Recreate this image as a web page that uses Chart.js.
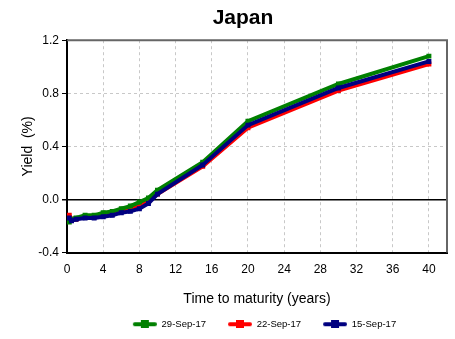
<!DOCTYPE html>
<html>
<head>
<meta charset="utf-8">
<script src="https://cdn.jsdelivr.net/npm/chart.js@4"></script>
<style>
  body { margin: 0; background: #fff; }
  #wrap { width: 455px; height: 339px; }
</style>
</head>
<body>
<div id="wrap"><canvas id="canvas"></canvas></div>
<script>
// maturities in years
let maturities = [0.25, 0.5, 1, 2, 3, 4, 5, 6, 7, 8, 9, 10, 15, 20, 30, 40];

// yields (%)
let sep29 = [-0.17, -0.15, -0.14, -0.12, -0.12, -0.10, -0.09, -0.07, -0.05, -0.02, 0.01, 0.07, 0.28, 0.59, 0.87, 1.08];
let sep22 = [-0.12, -0.15, -0.15, -0.13, -0.13, -0.12, -0.11, -0.09, -0.07, -0.04, -0.01, 0.04, 0.25, 0.54, 0.82, 1.02];
let sep15 = [-0.14, -0.16, -0.15, -0.14, -0.14, -0.13, -0.12, -0.10, -0.09, -0.07, -0.03, 0.04, 0.26, 0.56, 0.84, 1.04];

let seriesNames = ['29-Sep-17', '22-Sep-17', '15-Sep-17'];
let colors = ['#008000', '#ff0000', '#000080'];
let title = 'Japan';

Chart.defaults.font.family = '"Liberation Sans", Arial, sans-serif';
Chart.defaults.color = '#000';

// legend marker: blank lead-in (acts as gap) then a short line with a square
function legendIcon(color) {
  let c = document.createElement('canvas');
  c.width = 38; c.height = 8;
  let g = c.getContext('2d');
  g.strokeStyle = color;
  g.lineWidth = 4;
  g.lineCap = 'round';
  g.beginPath(); g.moveTo(16, 4); g.lineTo(36, 4); g.stroke();
  g.fillStyle = color;
  g.fillRect(22, 0, 8, 8);
  return c;
}

function toPoints(arr) {
  return arr.map((v, i) => ({ x: maturities[i], y: v }));
}

let allSeries = [sep29, sep22, sep15];
let drawOrder = [1, 2, 0]; // blue on top

let datasets = allSeries.map((s, i) => ({
  label: seriesNames[i],
  data: toPoints(s),
  borderColor: colors[i],
  backgroundColor: colors[i],
  borderWidth: 4,
  pointStyle: 'rect',
  pointRadius: 3.5,
  pointBorderWidth: 0,
  tension: 0,
  order: drawOrder[i]
}));

// frame on top and right of the plot, title and legend nudged like the original
let frame = {
  id: 'frame',
  beforeDraw(chart) {
    let t = chart.titleBlock;
    if (t) { t.left = 31; t.right = 455; }
    let l = chart.legend;
    if (l && !l._moved) { l.left += 26; l.right += 26; l._moved = true; }
  },
  afterDatasetsDraw(chart) {
    let a = chart.chartArea;
    let g = chart.ctx;
    g.save();
    g.strokeStyle = '#666';
    g.lineWidth = 2;
    g.beginPath();
    g.moveTo(a.left, a.top);
    g.lineTo(a.right, a.top);
    g.lineTo(a.right, a.bottom);
    g.stroke();
    g.restore();
  }
};

let options = {
  type: 'line',
  data: { datasets: datasets },
  plugins: [frame],
  options: {
    responsive: true,
    maintainAspectRatio: false,
    animation: false,
    layout: { padding: { left: 16, right: 8, top: 4, bottom: 0 } },
    plugins: {
      title: {
        display: true,
        text: title,
        font: { size: 21, weight: 'bold' },
        padding: { top: 2, bottom: 9 }
      },
      legend: {
        position: 'bottom',
        labels: {
          usePointStyle: true,
          pointStyleWidth: 38,
          generateLabels: chart => seriesNames.map((n, i) => ({
            text: n,
            datasetIndex: i,
            pointStyle: legendIcon(colors[i]),
            fillStyle: colors[i],
            strokeStyle: colors[i],
            lineWidth: 0
          })),
          font: { size: 9.5 },
          boxHeight: 8,
          padding: 8
        }
      },
      tooltip: { enabled: false }
    },
    scales: {
      x: {
        type: 'linear',
        min: 0,
        max: 42,
        afterFit: s => { s.height = 59; },
        ticks: { stepSize: 4, includeBounds: false, font: { size: 12 }, padding: 10 },
        grid: { color: '#c8c8c8', drawTicks: false },
        border: { color: '#000', width: 2, dash: [3, 3] },
        title: { display: true, text: 'Time to maturity (years)', font: { size: 14 } }
      },
      y: {
        min: -0.4,
        max: 1.2,
        afterFit: s => { s.width = 51; },
        ticks: { stepSize: 0.4, font: { size: 12 }, callback: v => v.toFixed(1) },
        grid: {
          color: ctx => ctx.tick && ctx.tick.value === 0 ? '#000' : '#c8c8c8',
          lineWidth: ctx => ctx.tick && ctx.tick.value === 0 ? 1.5 : 1,
          tickColor: '#000',
          tickLength: 5
        },
        border: {
          color: '#000', width: 2,
          dash: ctx => ctx.tick && ctx.tick.value === 0 ? [] : [3, 3]
        },
        title: { display: true, text: 'Yield  (%)', font: { size: 14 } }
      }
    }
  }
};

let chart = new Chart(document.getElementById('canvas'), options);
</script>
</body>
</html>
